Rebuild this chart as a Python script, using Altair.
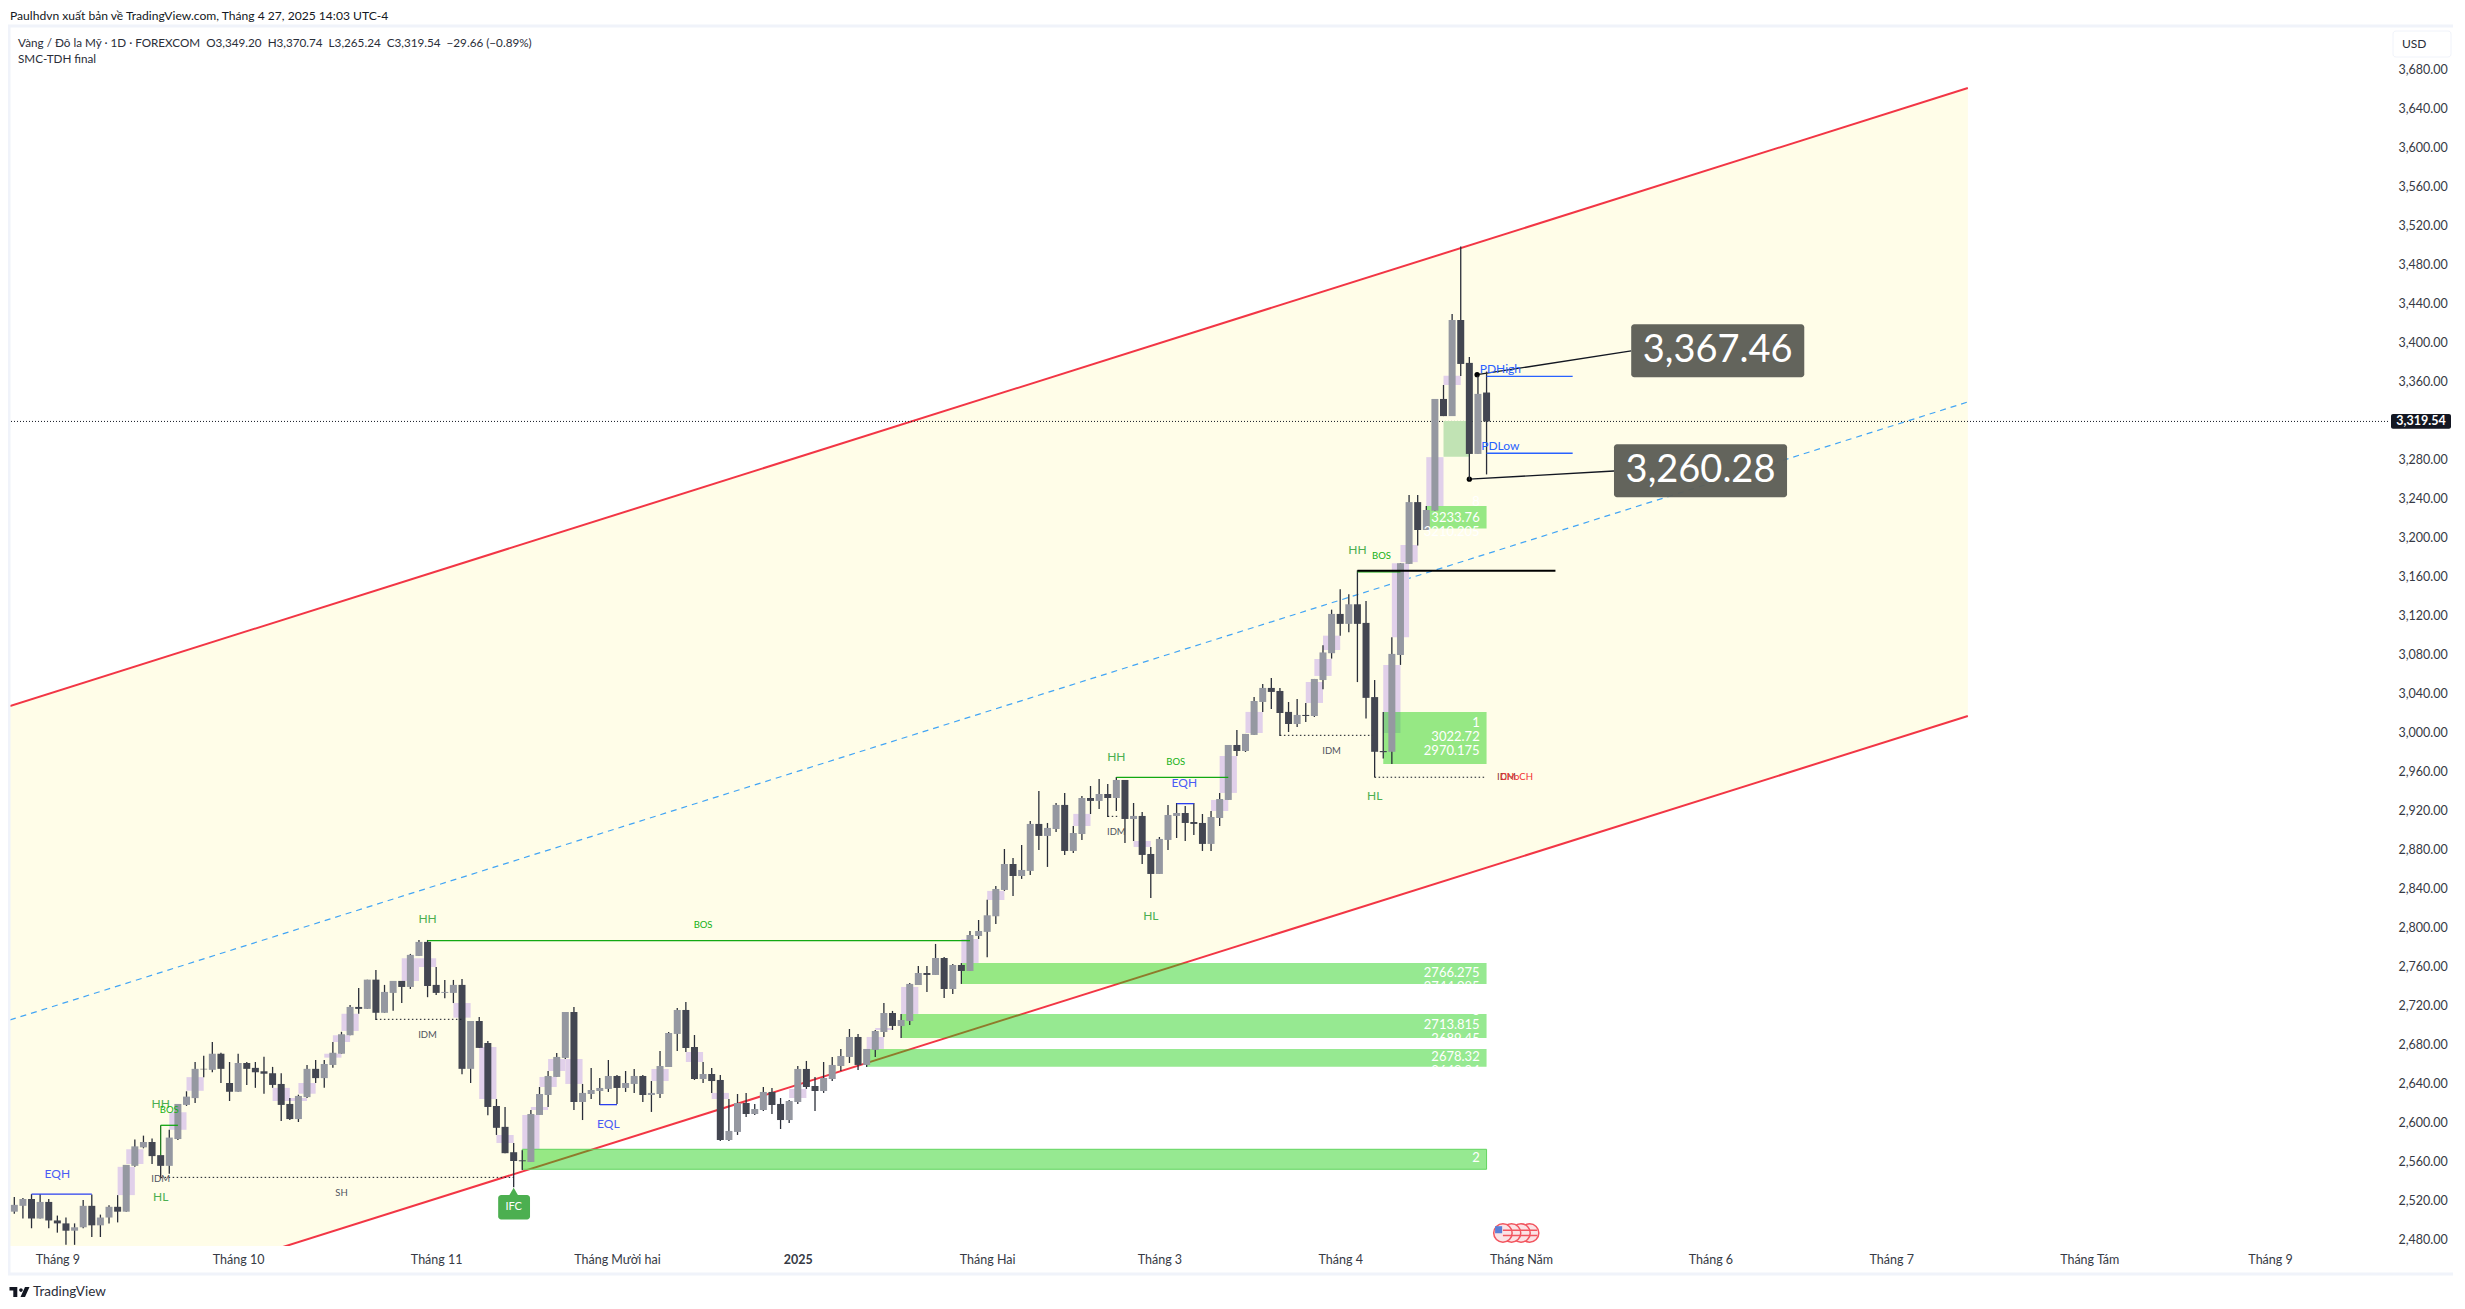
"""Gold daily chart (FOREXCOM) with channel and SMC annotations, TradingView look."""

import json

import altair as alt
import pandas as pd

FONT = "Lato"

# Candles, one entry per trading day (G = up, D = down)
highs = [
    2524, 2523, 2527, 2527, 2522, 2505, 2503, 2497, 2521, 2526.5,
    2506, 2515.5, 2526, 2557, 2583, 2587, 2584, 2567, 2593, 2619.5,
    2632.5, 2662.5, 2669, 2683, 2672, 2662.5, 2671, 2662.5, 2662.5, 2668,
    2657.5, 2651, 2625.5, 2629, 2659.5, 2664.6, 2664.6, 2683, 2693.5, 2721,
    2738.5, 2747, 2757, 2741.6, 2745.7, 2745.7, 2773.4, 2787.7, 2787.7, 2760,
    2746.7, 2746.7, 2747.7, 2704.6, 2708.7, 2684, 2624.6, 2616.4, 2579.5, 2572,
    2613.3, 2636.9, 2653.3, 2671.8, 2713.8, 2719, 2640, 2656.4, 2646.1, 2664.6,
    2649.2, 2653.3, 2655.4, 2649.2, 2643, 2673.8, 2693.3, 2718, 2724, 2690.2,
    2662.5, 2656.4, 2649.2, 2624.6, 2629.7, 2630.8, 2619.5, 2636.9, 2635.9, 2625.6,
    2623.6, 2658.4, 2663.6, 2647.2, 2662.5, 2667.7, 2675.9, 2696.4, 2691.3, 2675.9,
    2695.4, 2723, 2714.9, 2711.8, 2743.6, 2761, 2761, 2783.6, 2770.2, 2763,
    2764, 2796.9, 2808.2, 2829, 2843,
    2881, 2871.8, 2885.1, 2909.7, 2940.5, 2907.7, 2928.2, 2938.5, 2904.6, 2935.4,
    2945.6, 2952.8, 2947.7, 2954.9, 2951.8, 2928.2, 2919, 2883.1, 2893.3, 2926.2,
    2928.2, 2925.1, 2928.2, 2916.9, 2920, 2938.5, 2987.7, 3003.1, 2999, 3037,
    3050.3, 3056.4, 3046.2, 3031.8, 3034.9, 3030.8, 3055.4, 3089.9, 3126.5, 3147.4,
    3142.3, 3166.8, 3135.3, 3054.3, 3021.4, 3098.3, 3174.1, 3244.1, 3244.1, 3232.7,
    3342.6, 3356.9, 3429.8, 3499, 3385.5, 3366.4, 3370.7,
]
body_tops = [
    2516, 2522, 2522, 2519, 2519, 2500, 2497, 2493, 2515, 2515,
    2503, 2514, 2514, 2557, 2576, 2580.5, 2580.5, 2567, 2585, 2619.5,
    2627, 2655.5, 2655.5, 2671, 2671, 2641, 2661.5, 2661.5, 2656.5, 2653,
    2651, 2640, 2619.5, 2627.7, 2655.5, 2655.5, 2660.5, 2672, 2691, 2719,
    2719, 2747, 2747, 2734.4, 2745.7, 2745.7, 2772.4, 2785.7, 2785.7, 2741.6,
    2734.4, 2741.6, 2741.6, 2704.6, 2704.6, 2682, 2617.4, 2596, 2570, 2561.7,
    2609.2, 2629.7, 2648.2, 2667.7, 2713.8, 2713.8, 2630.8, 2633.8, 2635.9, 2648.2,
    2648.2, 2641, 2648.2, 2648.2, 2630.8, 2658.4, 2692.3, 2715.9, 2715.9, 2677.9,
    2650.2, 2650.2, 2644.1, 2591.8, 2620.5, 2620.5, 2614.3, 2631.8, 2631.8, 2619.5,
    2622.5, 2655.4, 2655.4, 2637.9, 2646.1, 2659.5, 2668.7, 2688.2, 2688.2, 2675.9,
    2694.3, 2712.8, 2712.8, 2705.6, 2742.6, 2753.8, 2753.8, 2769.2, 2769.2, 2762,
    2762, 2792.8, 2796.9, 2813, 2840,
    2865.6, 2865.6, 2859.5, 2906.7, 2906.7, 2902.6, 2926.2, 2926.2, 2897.4, 2933.3,
    2933.3, 2937.4, 2937.4, 2951.8, 2951.8, 2914.9, 2914.9, 2875.9, 2891.3, 2915.9,
    2917.9, 2917.9, 2908.7, 2907.7, 2913.8, 2932.3, 2987.7, 2987.7, 2999, 3032.8,
    3046.2, 3046.2, 3043.1, 3021.6, 3018.5, 3018.5, 3055.4, 3082.6, 3122.1, 3122.1,
    3132, 3132, 3112.9, 3036.8, 2981.5, 3081.1, 3174.1, 3236.8, 3236.8, 3228.7,
    3342.6, 3342.6, 3423.6, 3423.6, 3379.6, 3347.8, 3349.2,
]
body_bottoms = [
    2509, 2515, 2502, 2502, 2500, 2497, 2489.5, 2489.5, 2493, 2495,
    2495, 2503, 2509, 2509, 2556, 2575, 2566, 2556, 2556, 2583.5,
    2618.5, 2625.5, 2655, 2654.5, 2655.5, 2632, 2632, 2655.5, 2652, 2650.5,
    2639, 2618.5, 2604, 2604, 2626.5, 2646, 2646, 2659.5, 2671, 2690,
    2717, 2717, 2713, 2713, 2733.4, 2739.5, 2739.5, 2771.3, 2740.5, 2733.4,
    2733.4, 2733.4, 2655.5, 2655.5, 2677, 2616.4, 2595, 2569, 2561, 2560.7,
    2560, 2608.2, 2628.7, 2647.2, 2666.7, 2621.5, 2621.5, 2629.7, 2632.8, 2634.9,
    2635.9, 2635.9, 2640, 2628.7, 2628.7, 2629.7, 2657.4, 2691.3, 2676.9, 2645.1,
    2645.1, 2643, 2582.5, 2582.5, 2590.8, 2609.2, 2609.2, 2613.3, 2618.4, 2603,
    2603, 2621.5, 2636.9, 2632.8, 2632.8, 2645.1, 2658.4, 2667.7, 2659.5, 2659.5,
    2674.9, 2693.3, 2699.5, 2699.5, 2704.6, 2741.5, 2751.8, 2751.8, 2737.4, 2737.4,
    2755.9, 2755.9, 2791.8, 2796, 2812,
    2839, 2853.3, 2853.3, 2858.5, 2894.4, 2894.4, 2901.5, 2879, 2879, 2896.4,
    2930.3, 2930.3, 2933.3, 2933.3, 2911.8, 2911.8, 2874.9, 2855.4, 2855.4, 2890.3,
    2914.9, 2907.7, 2906.7, 2886.2, 2886.2, 2912.8, 2931.3, 2981.5, 2981.5, 2998,
    3031.8, 3042.1, 3020.5, 3009.2, 3009.2, 3017.4, 3017.4, 3054.3, 3081.8, 3111.9,
    3111.9, 3111.9, 3036, 2980.7, 2980.3, 2980.7, 3080, 3173.4, 3208.2, 3208.2,
    3228, 3325, 3325, 3378.5, 3286.2, 3286.2, 3319.5,
]
lows = [
    2507, 2502, 2492, 2502, 2492, 2487.5, 2475, 2475, 2492, 2483,
    2483, 2497, 2498, 2509, 2555, 2574, 2558, 2543, 2548, 2582.5,
    2617.5, 2620.5, 2647, 2652, 2641, 2622.5, 2632, 2639, 2636, 2630,
    2636, 2602, 2603, 2601, 2625.5, 2641, 2636, 2656.5, 2671, 2690,
    2712, 2717, 2705.7, 2713, 2715, 2723, 2737.5, 2771.3, 2729, 2731.3,
    2728, 2723, 2650, 2641, 2677, 2608, 2587.7, 2569, 2534, 2551.8,
    2560, 2608.2, 2616.4, 2647.2, 2665.6, 2613.3, 2603, 2624.6, 2618.4, 2631.8,
    2619.5, 2631.8, 2630.8, 2621.5, 2611.3, 2625.6, 2657.4, 2673.8, 2672.8, 2644.1,
    2641, 2630.8, 2581.5, 2581.5, 2587.7, 2606.1, 2608.2, 2612.3, 2609.2, 2593.8,
    2600, 2619.5, 2634.9, 2612.3, 2630.8, 2643, 2653.3, 2661.5, 2654.3, 2657.4,
    2667.7, 2688.2, 2695.4, 2687.2, 2700.5, 2741.5, 2734.3, 2751.8, 2728.2, 2732.3,
    2742.6, 2755.9, 2788.7, 2770, 2804,
    2838, 2832.8, 2850.3, 2854.4, 2880, 2862.6, 2898.5, 2874.9, 2876.9, 2890.3,
    2916.9, 2922, 2913.8, 2920, 2887.2, 2889.2, 2865.6, 2830.8, 2855.4, 2880,
    2892.3, 2889.2, 2895.4, 2879, 2879, 2904.6, 2931.3, 2976.4, 2980.5, 2998,
    3021.6, 3024.6, 2996.9, 3001, 3006.2, 3011.3, 3016.4, 3044.8, 3076.3, 3099.8,
    3103.4, 3052.2, 3014.8, 2954.4, 2973.8, 2968.3, 3069.8, 3173.4, 3192.4, 3208.2,
    3228, 3325, 3325, 3366.1, 3259.5, 3286.2, 3265.2,
]
directions = (
    "GGDGDDDGGD" "GGDGGGDDGG" "GGDGDDGDDD" "DDDGGDGGGG" "DGDGGDGGDD" "GGDGDDDDDD"
    "GGGGGDGGGG" "DGGDGGGGDD" "GDDGGDGGDD" "GGDDGGGGDG" "GGDGGGDGDG" "DGGGG"
    "GDGGDGGDGG" "DGDGDGDDGG" "GDDDGGGDGG" "GDDDGDGGGD" "GDDDDGGGDG" "GDGDDGD"
)

# Fair value gaps behind the candles: centre bar, top and bottom price
fvg_center = [13, 14, 19, 21, 31, 33, 34, 37, 38, 39, 46, 48, 52, 55, 57, 60, 61, 62, 63, 65, 75,
              79, 82, 91, 100, 101, 104, 111, 114, 124, 131, 140, 141, 144, 151, 152, 153, 160,
              161, 162, 165, 167]
fvg_top = [2555, 2573, 2611, 2647, 2636, 2625.5, 2641, 2671, 2690, 2712, 2769, 2769, 2723, 2678,
           2587.7, 2608.2, 2616.4, 2647.2, 2665.6, 2665.6, 2655.4, 2672.8, 2630.8, 2634.9, 2688.2,
           2697.4, 2739.5, 2788.7, 2838, 2917, 2889.2, 2931.3, 2976.4, 3021.6, 3052.3, 3075.9,
           3099.8, 3069.8, 3174, 3192.8, 3282.9, 3366.4]
fvg_bottom = [2526, 2558, 2593, 2633, 2622.5, 2622.5, 2630, 2667, 2683, 2694.4, 2745.7, 2760, 2708,
              2624.6, 2579.5, 2573.3, 2613.3, 2636.9, 2653.3, 2640, 2643, 2662.5, 2624.6, 2625.6,
              2675.9, 2695.4, 2711.8, 2764.1, 2828.7, 2904.6, 2883.1, 2920, 2938.5, 3000, 3030.8,
              3058.5, 3085.1, 3000, 3098.3, 3175.2, 3232.7, 3356.9]

# Order block zones
zone_left = [59, 99, 103, 110, 159, 164]
zone_right = [171, 171, 171, 171, 171, 171]
zone_top = [2573, 2675.9, 2711.8, 2764, 3021.5, 3232.8]
zone_bottom = [2552.5, 2657.7, 2687.2, 2742.6, 2968.2, 3209.6]
zone_labels = ["2", "2", "2766.275", "2744.085", "3", "2713.815", "2689.45", "2678.32", "2648.94",
               "1", "3022.72", "2970.175", "8", "3233.76", "3210.205"]
zone_label_price = [2563.8, 2768.2, 2753.8, 2739.5, 2714.9, 2700.5, 2686, 2667.7, 2653.4,
                    3010.3, 2996, 2981.5, 3236.4, 3220.6, 3206]

# Channel: bar index and price at both ends
channel_x = [-0.5, 226.9]
channel_upper = [3027.7, 3661.5]
channel_middle = [2705.6, 3339.5]
channel_lower = [2384.6, 3017.4]

# Axis
price_ticks = list(range(2480, 3681, 40))
month_bars = [5, 26, 49, 70, 91, 113, 133, 154, 175, 197, 218, 241, 262]
month_names = ["Tháng 9", "Tháng 10", "Tháng 11", "Tháng Mười hai", "2025", "Tháng Hai", "Tháng 3",
               "Tháng 4", "Tháng Năm", "Tháng 6", "Tháng 7", "Tháng Tám", "Tháng 9"]

# Line annotations: x1, x2, y1, y2, colour
GREEN_LINE = "#12A812"
BLUE_LINE = "#2A3FF0"
solid_segments = [
    (2, 9, 2527, 2527, BLUE_LINE),
    (17, 19, 2597.6, 2597.6, GREEN_LINE),
    (17, 17, 2597.6, 2567, "#1E7A1E"),
    (48, 111, 2787, 2787, GREEN_LINE),
    (128, 141, 2954.5, 2954.5, GREEN_LINE),
    (135, 137, 2927.5, 2927.5, BLUE_LINE),
    (68, 70, 2618.8, 2618.8, BLUE_LINE),
    (156, 161, 3165.3, 3165.3, GREEN_LINE),
    (171, 181, 3365.8, 3365.8, "#2962FF"),
    (171, 181, 3286.9, 3286.9, "#2962FF"),
]
dotted_segments = [
    (17, 58, 2544.2),
    (42, 52, 2706.3),
    (127, 128.4, 2914.5),
    (147, 157.7, 2997.6),
    (158, 171, 2954.6),
]

# Text annotations: text, bar, price, colour, size
SMC_GREEN = "#4CAF50"
BOS_GREEN = "#14B014"
IDM_GRAY = "#50535E"
EQ_BLUE = "#4A5CF5"
labels = [
    ("EQH", 5, 2548, EQ_BLUE, 12), ("HH", 17, 2619, SMC_GREEN, 12), ("BOS", 18, 2613.3, BOS_GREEN, 9.5),
    ("IDM", 17, 2543, IDM_GRAY, 9.5), ("HL", 17, 2524.4, SMC_GREEN, 12), ("SH", 38, 2528.5, IDM_GRAY, 9.5),
    ("HH", 48, 2809, SMC_GREEN, 12), ("BOS", 80, 2803.4, BOS_GREEN, 9.5), ("IDM", 48, 2690.6, IDM_GRAY, 9.5),
    ("EQL", 69, 2599.3, EQ_BLUE, 12), ("HH", 128, 2975.7, SMC_GREEN, 12), ("BOS", 134.9, 2970.6, BOS_GREEN, 9.5),
    ("EQH", 135.9, 2949, EQ_BLUE, 12), ("IDM", 128, 2898.8, IDM_GRAY, 9.5), ("HL", 132, 2812, SMC_GREEN, 12),
    ("IDM", 153, 2981.8, IDM_GRAY, 9.5), ("HL", 158, 2935.7, SMC_GREEN, 12), ("HH", 156, 3188, SMC_GREEN, 12),
    ("BOS", 158.8, 3181.8, BOS_GREEN, 9.5), ("IDM", 173.3, 2955, "#8A3030", 9.5), ("CHoCH", 174.5, 2955, "#F23030", 9.5),
    ("PDHigh", 172.6, 3373.8, "#2962FF", 12), ("PDLow", 172.6, 3294.4, "#2962FF", 12),
]

# Price callouts: anchor, box and text
callout_text = ["3,367.46", "3,260.28"]
callout_bar = [169.9, 169]
callout_price = [3367.46, 3260.28]
callout_end_bar = [187.8, 185.8]
callout_end_price = [3391.8, 3268.7]
callout_left = [187.8, 185.8]
callout_right = [207.9, 205.9]
callout_top = [3419.2, 3296.1]
callout_bottom = [3364.8, 3241.7]

last_price = 3319.54

# Scales and axes shared by every layer
x_scale = alt.Scale(domain=[-0.5, 275.7], nice=False, zero=False, padding=0)
y_scale = alt.Scale(domain=[2473.8, 3724.1], nice=False, zero=False)
month_lookup = json.dumps({str(b): n for b, n in zip(month_bars, month_names)}, ensure_ascii=False)
x_axis = alt.Axis(
    values=month_bars, labelExpr=f"{month_lookup}[datum.value]", domain=False, ticks=False, grid=False,
    labelFont=FONT, labelFontSize=12.5, labelColor="#363A45", labelPadding=7, labelOverlap=False,
    labelFontWeight={"condition": {"test": "datum.value == 91", "value": "bold"}, "value": "normal"},
)
y_axis = alt.Axis(
    values=price_ticks, format=",.2f", orient="right", domain=False, ticks=False, grid=False,
    labelFont=FONT, labelFontSize=12.5, labelColor="#363A45", labelPadding=10, labelOverlap=False,
)


def xy(x_field="i", y_field="p"):
    return {
        "x": alt.X(f"{x_field}:Q", scale=x_scale, axis=x_axis, title=None),
        "y": alt.Y(f"{y_field}:Q", scale=y_scale, axis=y_axis, title=None),
    }


def y_only(y_field="p"):
    return alt.Y(f"{y_field}:Q", scale=y_scale, axis=y_axis, title=None)


candles = pd.DataFrame({
    "i": range(len(highs)),
    "high": highs,
    "low": lows,
    "top": body_tops,
    "bottom": body_bottoms,
    "dir": list(directions),
})
fvg = pd.DataFrame({"c": fvg_center, "top": fvg_top, "bottom": fvg_bottom})
fvg["x1"] = fvg["c"] - 1
fvg["x2"] = fvg["c"] + 1
zones = pd.DataFrame({"x1": zone_left, "x2": zone_right, "top": zone_top, "bottom": zone_bottom})
zone_text = pd.DataFrame({"text": zone_labels, "i": 170.2, "p": zone_label_price})
channel = pd.DataFrame({
    "i": channel_x, "upper": channel_upper, "middle": channel_middle, "lower": channel_lower,
})
segments = pd.DataFrame(solid_segments, columns=["x1", "x2", "y1", "y2", "color"])
dotted = pd.DataFrame(dotted_segments, columns=["x1", "x2", "y1"])
text_df = pd.DataFrame(labels, columns=["text", "i", "p", "color", "size"])
callouts = pd.DataFrame({
    "text": callout_text, "x1": callout_bar, "x2": callout_end_bar,
    "y1": callout_price, "y2": callout_end_price,
    "left": callout_left, "right": callout_right, "top": callout_top, "bottom": callout_bottom,
})
callouts["cx"] = (callouts["left"] + callouts["right"]) / 2
callouts["cy"] = (callouts["top"] + callouts["bottom"]) / 2

# Background and channel
fill = alt.Chart(channel).mark_area(color="#FFFDE8", clip=True).encode(
    **xy(y_field="upper"), y2="lower:Q"
)
upper_line = alt.Chart(channel).mark_line(color="#F23645", strokeWidth=2, clip=True).encode(**xy(y_field="upper"))
lower_line = alt.Chart(channel).mark_line(color="#F23645", strokeWidth=2, clip=True).encode(**xy(y_field="lower"))
middle_line = alt.Chart(channel).mark_line(color="#42A5F5", strokeWidth=1.2, strokeDash=[6, 5], clip=True).encode(
    **xy(y_field="middle")
)

# Zones
fvg_layer = alt.Chart(fvg).mark_rect(color="#E1D0EA").encode(
    **xy("x1", "top"), x2="x2:Q", y2="bottom:Q"
)
zone_layer = alt.Chart(zones).mark_rect(color="#17CE0C", opacity=0.45).encode(
    **xy("x1", "top"), x2="x2:Q", y2="bottom:Q"
)
zone_edge = alt.Chart(zones.iloc[[0]]).mark_rect(fillOpacity=0, stroke="#62D45F", strokeWidth=1).encode(
    **xy("x1", "top"), x2="x2:Q", y2="bottom:Q"
)
pale_zone = alt.Chart(pd.DataFrame({"x1": [166], "x2": [169], "top": [3320], "bottom": [3283.3]})).mark_rect(
    color="#C1E3B4"
).encode(**xy("x1", "top"), x2="x2:Q", y2="bottom:Q")

# Candles
body_color = alt.Color("dir:N", scale=alt.Scale(domain=["G", "D"], range=["#9598A1", "#434651"]), legend=None)
wicks = alt.Chart(candles).mark_rule(color="#2A2E39", strokeWidth=1.3).encode(**xy(y_field="high"), y2="low:Q")
bodies = alt.Chart(candles).mark_bar(size=7).encode(**xy(y_field="top"), y2="bottom:Q", color=body_color)

# Annotation lines
last_line = alt.Chart(pd.DataFrame({"p": [last_price]})).mark_rule(
    color="#131722", strokeDash=[1, 2], strokeWidth=1
).encode(y=y_only())
segment_layer = alt.Chart(segments).mark_rule(strokeWidth=1.3).encode(
    **xy("x1", "y1"), x2="x2:Q", y2="y2:Q", color=alt.Color("color:N", scale=None)
)
dotted_layer = alt.Chart(dotted).mark_rule(color="#131722", strokeDash=[1.5, 2.5], strokeWidth=1).encode(
    **xy("x1", "y1"), x2="x2:Q"
)
black_line = alt.Chart(pd.DataFrame({"x1": [156], "x2": [179], "y1": [3166.5]})).mark_rule(
    color="#000000", strokeWidth=2
).encode(**xy("x1", "y1"), x2="x2:Q")

# Texts
text_layer = alt.Chart(text_df).mark_text(font=FONT, baseline="middle").encode(
    **xy(), text="text:N", color=alt.Color("color:N", scale=None), size=alt.Size("size:Q", scale=None)
)
zone_text_layer = alt.Chart(zone_text).mark_text(
    font=FONT, align="right", baseline="middle", color="#FFFFFF", fontSize=13
).encode(**xy(), text="text:N")

# IFC tag
ifc_box = alt.Chart(pd.DataFrame({"x1": [56.2], "x2": [59.9], "top": [2526], "bottom": [2501]})).mark_rect(
    color="#4CAF50", cornerRadius=3
).encode(**xy("x1", "top"), x2="x2:Q", y2="bottom:Q")
ifc_tip = alt.Chart(pd.DataFrame({"i": [58], "p": [2529]})).mark_point(
    shape="triangle-up", filled=True, color="#4CAF50", opacity=1, size=110
).encode(**xy())
ifc_text = alt.Chart(pd.DataFrame({"i": [58], "p": [2513.5], "text": ["IFC"]})).mark_text(
    font=FONT, color="#FFFFFF", fontSize=11, baseline="middle"
).encode(**xy(), text="text:N")

# Price callouts
callout_lines = alt.Chart(callouts).mark_rule(color="#131722", strokeWidth=1.3).encode(
    **xy("x1", "y1"), x2="x2:Q", y2="y2:Q"
)
callout_dots = alt.Chart(callouts).mark_point(filled=True, color="#000000", opacity=1, size=28).encode(
    **xy("x1", "y1")
)
callout_boxes = alt.Chart(callouts).mark_rect(color="#5D5E56", opacity=0.96, cornerRadius=3).encode(
    **xy("left", "top"), x2="right:Q", y2="bottom:Q"
)
callout_labels = alt.Chart(callouts).mark_text(font=FONT, color="#FFFFFF", fontSize=38, baseline="middle").encode(
    **xy("cx", "cy"), text="text:N"
)

# US flag markers near the time axis, first one on top
flag_bars = [176, 175, 173.9, 172.9]
flags = pd.DataFrame({"i": flag_bars, "p": 2487.2})
flag_circles = alt.Chart(flags).mark_point(
    filled=True, fill="#FBE3E5", stroke="#F2555F", strokeWidth=1.5, opacity=1, size=340
).encode(**xy(), order=alt.Order("i:Q", sort="descending"))
flag_stripes = alt.Chart(pd.DataFrame({"x1": [172.9, 172.9], "x2": [176.9, 176.9], "y1": [2484.5, 2490]})).mark_rule(
    color="#F2555F", strokeWidth=1.5
).encode(**xy("x1", "y1"), x2="x2:Q")
flag_canton = alt.Chart(pd.DataFrame({"i": [172.4], "p": [2490.5]})).mark_point(
    shape="square", filled=True, color="#5B7FD6", opacity=1, size=50
).encode(**xy())

# Chrome: frame, header texts, price tag, USD box, logo (pixel positions inside the view)
PANEL = "#F0F3FA"
frame = alt.Chart(pd.DataFrame({"a": [0]})).mark_rect(fillOpacity=0, stroke=PANEL, strokeWidth=3).encode(
    x=alt.value(-1), x2=alt.value(2445), y=alt.value(-1), y2=alt.value(1247)
)


def page_text(text, x, y, size=12, color="#131722", **kwargs):
    return alt.Chart(pd.DataFrame({"a": [0]})).mark_text(
        text=text, font=FONT, fontSize=size, color=color, align="left", baseline="middle", **kwargs
    ).encode(x=alt.value(x), y=alt.value(y))


header = page_text("Paulhdvn xuất bản về TradingView.com, Tháng 4 27, 2025 14:03 UTC-4", 0, -11.5, size=12.1)
legend_line = page_text(
    "Vàng / Đô la Mỹ · 1D · FOREXCOM\u00a0\u00a0O3,349.20\u00a0\u00a0H3,370.74\u00a0\u00a0L3,265.24"
    "\u00a0\u00a0C3,319.54\u00a0\u00a0−29.66 (−0.89%)",
    8, 15.5, size=11.7, color="#2A2E39",
)
indicator = page_text("SMC-TDH final", 8, 32, size=11.7, color="#2A2E39")
usd_box = alt.Chart(pd.DataFrame({"a": [0]})).mark_rect(
    fill="#FFFFFF", stroke=PANEL, strokeWidth=1, cornerRadius=3
).encode(x=alt.value(2383), x2=alt.value(2441), y=alt.value(4), y2=alt.value(30))
usd_text = page_text("USD", 2392, 17, color="#2A2E39")
price_tag = alt.Chart(pd.DataFrame({"top": [last_price + 7.5], "bottom": [last_price - 7.5]})).mark_rect(
    color="#131722", cornerRadius=2
).encode(y=y_only("top"), y2="bottom:Q", x=alt.value(2381), x2=alt.value(2441))
price_tag_text = alt.Chart(pd.DataFrame({"p": [last_price], "text": ["3,319.54"]})).mark_text(
    font=FONT, fontSize=12.5, color="#FFFFFF", fontWeight="bold", align="center", baseline="middle"
).encode(y=y_only(), x=alt.value(2411), text="text:N")
logo = alt.Chart(pd.DataFrame({"a": [0]})).mark_point(
    shape="M-1 -.5H-.22V.5H-.62V-.14H-1Z M.02 -.32A.18 .18 0 1 1 .019 -.319Z M.55 -.5H1L.55 .5H.1Z",
    filled=True, color="#131722", opacity=1, size=400,
).encode(x=alt.value(9.5), y=alt.value(1265))
logo_text = page_text("TradingView", 23, 1265, size=13.5, color="#2A2E39")

chart = alt.layer(
    fill, upper_line, lower_line, middle_line, last_line,
    fvg_layer, pale_zone, zone_layer, zone_edge,
    callout_lines, callout_boxes, callout_dots, callout_labels,
    wicks, bodies, segment_layer, dotted_layer, black_line,
    zone_text_layer, text_layer, ifc_box, ifc_tip, ifc_text,
    flag_circles, flag_stripes, flag_canton,
    frame, header, legend_line, indicator, usd_box, usd_text, price_tag, price_tag_text, logo, logo_text,
).resolve_scale(color="independent", size="independent").properties(
    width=2378,
    height=1219,
    padding={"left": 2, "top": 19, "right": 65, "bottom": 54},
    autosize=alt.AutoSizeParams(type="none"),
    background="#FFFFFF",
).configure_view(stroke=None)

chart.save("out.html", embed_options={"renderer": "svg", "actions": False})
